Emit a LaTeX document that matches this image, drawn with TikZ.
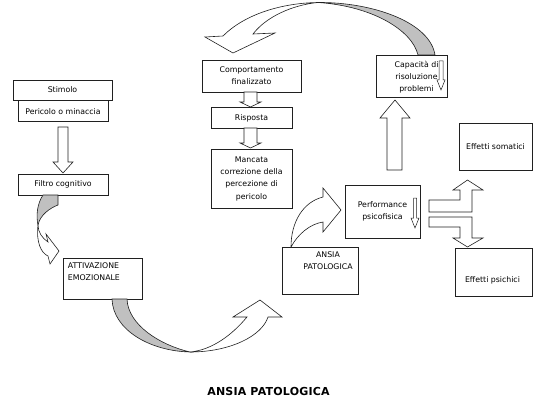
\documentclass[tikz,border=0pt]{standalone}
\usepackage{fontspec}
\setmainfont{DejaVu Sans}
\usetikzlibrary{positioning, calc}
\definecolor{backgray}{HTML}{C0C0C0}
\definecolor{linkblack}{HTML}{202020}

\begin{document}
\begin{tikzpicture}[
    x=1pt, y=-1pt,
    font=\fontsize{7.8}{12.3}\selectfont,
    box/.style={
        draw=linkblack, fill=white, line width=0.6pt,
        inner sep=0pt, align=center,
    },
    boxtext/.style={
        align=center, inner sep=0pt,
    },
    blockarrow/.style={
        draw=linkblack, fill=white, line width=0.6pt, line join=miter,
    },
    backside/.style={
        draw=linkblack, fill=backgray, line width=0.6pt,
    },
    title/.style={
        font=\fontsize{11}{13}\selectfont\bfseries\addfontfeature{LetterSpace=2},
    },
]
\useasboundingbox (0,0) rectangle (539,404);

% Left column
\node[box, minimum width=99pt, minimum height=20pt] (stimolo) at (62.5,90) {Stimolo};
\node[box, minimum width=90pt, minimum height=21pt, below=0pt of stimolo, xshift=0.5pt] (pericolo)
    {Pericolo o minaccia};
\node[box, minimum width=90pt, minimum height=21pt, below=52pt of pericolo] (filtro)
    {Filtro cognitivo};
\node[box, minimum width=79pt, minimum height=41pt] (attivazione) at (102.5,278.5) {};
\node[boxtext, anchor=north west, align=left] (attivtext) at ($(attivazione.north west) + (5,5)$)
    {ATTIVAZIONE\\EMOZIONALE};

% Middle column
\node[box, minimum width=99pt, minimum height=32pt] (comportamento) at (251.5,76)
    {Comportamento\\finalizzato};
\node[box, minimum width=81pt, minimum height=21pt, below=15pt of comportamento] (risposta)
    {Risposta};
\node[box, minimum width=81pt, minimum height=59pt, below=20pt of risposta] (mancata)
    {Mancata\\correzione della\\percezione di\\pericolo};
\node[box, minimum width=76pt, minimum height=47pt] (ansia) at (320,270.5) {};
\node[boxtext, anchor=north] (ansiatext) at ($(ansia.north) + (8,5)$) {ANSIA\\PATOLOGICA};

% Right column
\node[box, minimum width=71pt, minimum height=42pt] (capacita) at (411.5,76) {};
\node[boxtext] (capacitatext) at ($(capacita.center) + (5,1)$)
    {Capacità di\\risoluzione\\problemi};
\node[box, minimum width=75pt, minimum height=53pt] (performance) at (382.5,211.5)
    {Performance\\psicofisica};
\node[box, minimum width=73pt, minimum height=47pt] (somatici) at (495.5,146.5)
    {Effetti somatici};
\node[box, minimum width=77pt, minimum height=48pt] (psichici) at (493.5,272) {};
\node[boxtext] (psichicitext) at ($(psichici.center) + (-1,8)$) {Effetti psichici};

% Straight block arrows
\draw[blockarrow] (58,127) -- (68,127) -- (68,162) -- (73,162) -- (63,173)
    -- (53,162) -- (58,162) -- cycle;
\draw[blockarrow] (244,92) -- (257,92) -- (257,102) -- (261,102) -- (250.5,107)
    -- (240,102) -- (244,102) -- cycle;
\draw[blockarrow] (244,128) -- (257,128) -- (257,143) -- (261,143) -- (250.5,148)
    -- (240,143) -- (244,143) -- cycle;
\draw[blockarrow] (387,170) -- (402,170) -- (402,118) -- (410,118) -- (395,100)
    -- (380,118) -- (387,118) -- cycle;

% Small arrows inside boxes
\draw[blockarrow, line width=0.5pt] (439,61) -- (443,61) -- (443,80) -- (445,80) -- (441,90)
    -- (437,80) -- (439,80) -- cycle;
\draw[blockarrow, line width=0.5pt] (413.5,198) -- (416.5,198) -- (416.5,218) -- (419,218)
    -- (415,228) -- (411,218) -- (413.5,218) -- cycle;

% Split arrow to the effects
\draw[blockarrow] (429,200) -- (460,200) -- (460,190) -- (453,190) -- (467.5,180)
    -- (483,190) -- (472,190) -- (472,212) -- (429,212) -- cycle;
\draw[blockarrow] (429,217) -- (472,217) -- (472,238) -- (483,238) -- (467.5,247)
    -- (453,238) -- (460,238) -- (460,227) -- (429,227) -- cycle;

% Curved arrow: Capacita -> Comportamento
\draw[backside] (318,2.5) .. controls (372,2) and (430,22) .. (435,55)
    -- (418,55) .. controls (412,30) and (372,6) .. (318,2.5) -- cycle;
\draw[blockarrow] (205,37) -- (223,36) .. controls (245,14) and (282,3) .. (318,2.5)
    .. controls (292,5) and (266,17) .. (253,34) -- (275,33) -- (233,53) -- cycle;

% Curved arrow: Filtro -> Attivazione
\draw[backside] (43,195) .. controls (37,204) and (36,216) .. (38,225)
    .. controls (40,215) and (50,208) .. (58,205) -- (58,195) -- cycle;
\draw[blockarrow] (46,234) -- (48,242) .. controls (42,238) and (38,232) .. (38,225)
    .. controls (36,242) and (41,253) .. (48,256) -- (50,264) -- (59,251) -- cycle;

% Curved arrow: Attivazione -> Ansia
\draw[backside] (112,299) .. controls (113,330) and (150,351) .. (190,352)
    .. controls (160,345) and (128,325) .. (127,299) -- cycle;
\draw[blockarrow] (233,317) -- (247,317) .. controls (232,335) and (212,350) .. (190,352)
    .. controls (230,352) and (262,336) .. (268,317) -- (282,317) -- (260,300) -- cycle;

% Curved arrow: Ansia -> Performance
\draw[blockarrow] (323,188) -- (323,197) .. controls (303,202) and (291,222) .. (291,247)
    .. controls (298,234) and (310,224) .. (323,222) -- (323,232) -- (341,210) -- cycle;

% Title
\node[title] (titolo) at (268.5,391) {ANSIA PATOLOGICA};

\end{tikzpicture}
\end{document}
